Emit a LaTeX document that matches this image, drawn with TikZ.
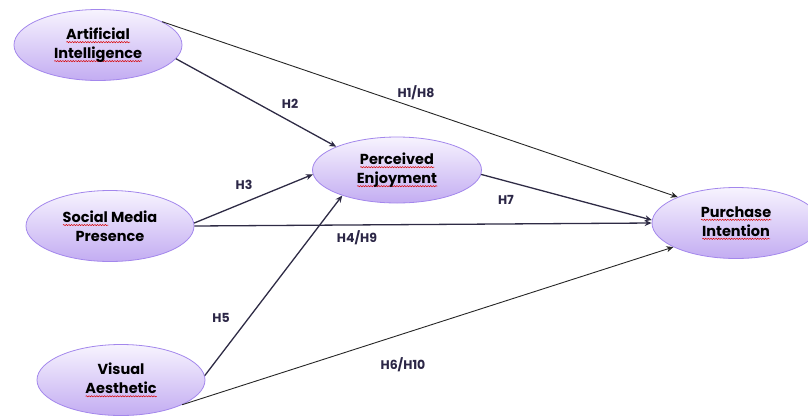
\documentclass[tikz,border=0pt]{standalone}
\usepackage{fontspec}
\setsansfont{Poppins}
\usetikzlibrary{shapes.geometric,arrows.meta,decorations.pathmorphing}
\newlength\wavelen
\newcommand\redwave[1]{\settowidth\wavelen{#1}\rlap{\tikz[baseline=0pt,x=1pt,y=1pt]\draw[red!85!black,line width=0.5pt,decorate,decoration={snake,amplitude=0.6pt,segment length=2.6pt}] (0,-2.8) -- (\wavelen,-2.8);}#1}
\definecolor{nodeborder}{HTML}{A387EC}
\definecolor{nodetop}{HTML}{F7F3FE}
\definecolor{nodebot}{HTML}{C3ADF2}
\definecolor{edgecol}{HTML}{2E2B45}
\definecolor{labcol}{HTML}{2B2646}
\tikzset{
  construct/.style={ellipse, draw=nodeborder, line width=0.8pt, top color=nodetop, bottom color=nodebot,
    minimum width=168pt, minimum height=71pt, inner sep=0pt, align=center,
    font=\sffamily\bfseries\fontsize{14.5}{19}\selectfont},
  link/.style={draw=edgecol, line width=1.3pt, -{Stealth[length=7pt,width=6pt]}},
  thinlink/.style={draw=black!85, line width=0.9pt, -{Stealth[length=7pt,width=6pt]}},
  hlab/.style={font=\sffamily\bfseries\fontsize{12.5}{14}\selectfont, text=labcol}
}
\begin{document}
\begin{tikzpicture}[x=1pt,y=-1pt]
\useasboundingbox (0,0) rectangle (808,418);
\node[construct] (ai) at (98,45) {\redwave{Artificial}\\\redwave{Intelligence}};
\node[construct] (smp) at (110,226) {\redwave{Social} Media\\Presence};
\node[construct] (va) at (121,380) {Visual\\\redwave{Aesthetic}};
\node[construct, minimum width=169pt, minimum height=66pt] (pe) at (397,170) {\redwave{Perceived}\\\redwave{Enjoyment}};
\node[construct] (pi) at (736,223) {\redwave{Purchase}\\\redwave{Intention}};

\draw[thinlink] (ai.20) -- (pi.156);
\draw[link] (ai.-10) -- (pe.159);
\draw[link] (smp.2) -- (pe.183);
\draw[link] (smp.0) -- (pi.180);
\draw[link] (va.3) -- (pe.205);
\draw[thinlink] (va.338) -- (pi.201);
\draw[link] (pe.-3) -- (pi.178);

\node[hlab] (l1) at (416,93) {H1/H8};
\node[hlab] (l2) at (290,104) {H2};
\node[hlab] (l3) at (244,185) {H3};
\node[hlab] (l4) at (357,238) {H4/H9};
\node[hlab] (l5) at (221,318) {H5};
\node[hlab] (l6) at (403,365) {H6/H10};
\node[hlab] (l7) at (506,200) {H7};
\end{tikzpicture}
\end{document}
